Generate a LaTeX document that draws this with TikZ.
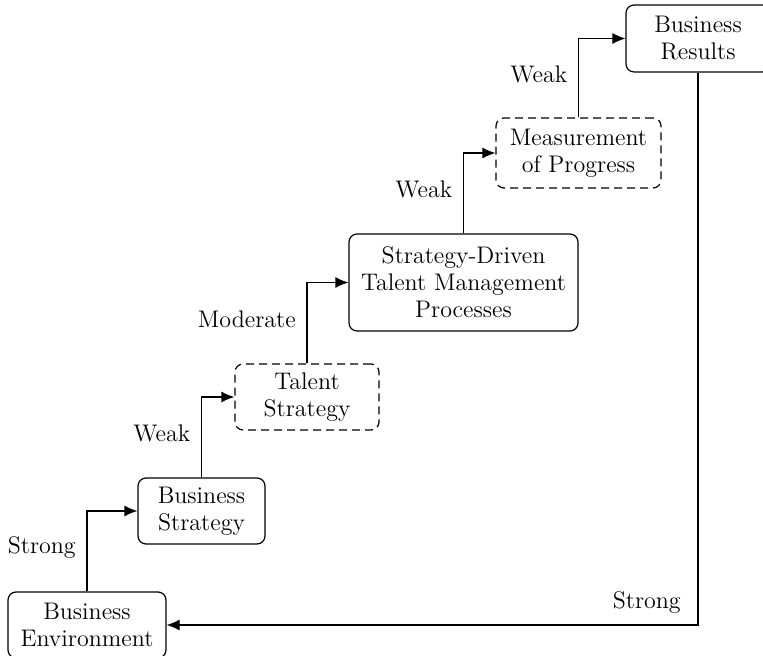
\documentclass[tikz,border=0pt]{standalone}
\usetikzlibrary{arrows.meta}
\tikzset{stage/.style={draw, rounded corners=4pt, line width=0.6pt, align=center,
         font=\fontsize{12}{13.5}\selectfont, inner sep=0pt},
         plan/.style={stage, dash pattern=on 4pt off 2.5pt},
         link/.style={line width=0.6pt, -{Latex[length=6.5pt,width=5.5pt]}},
         grade/.style={font=\fontsize{12}{13.5}\selectfont, left, pos=.25, xshift=-2pt, yshift=2pt}}

\begin{document}
\begin{tikzpicture}[x=0.5pt, y=-0.5pt]
    \useasboundingbox (0,0) rectangle (763,656);

    \node[stage, minimum width=72pt, minimum height=33.5pt] (res) at (698,38.5) {Business\\Results};
    \node[plan, minimum width=82.5pt, minimum height=35pt] (meas) at (578.5,153) {Measurement\\of Progress};
    \node[stage, minimum width=114.5pt, minimum height=48.5pt] (proc) at (463.5,282.5) {Strategy-Driven\\Talent Management\\Processes};
    \node[plan, minimum width=72pt, minimum height=33pt] (tal) at (307,397) {Talent\\Strategy};
    \node[stage, minimum width=63.5pt, minimum height=33pt] (strat) at (201.5,511) {Business\\Strategy};
    \node[stage, minimum width=79pt, minimum height=33pt] (env) at (87,625) {Business\\Environment};

    \draw[link] (env.north) |- node[grade] {Strong} (strat.west);
    \draw[link] (strat.north) |- node[grade] {Weak} (tal.west);
    \draw[link] (tal.north) |- node[grade] {Moderate} (proc.west);
    \draw[link] (proc.north) |- node[grade] {Weak} (meas.west);
    \draw[link] (meas.north) |- node[grade] {Weak} (res.west);
    \draw[link] (res.south) |- node[grade, anchor=south east, pos=.5, xshift=-3pt, yshift=0pt] {Strong} (env.east);
\end{tikzpicture}
\end{document}
